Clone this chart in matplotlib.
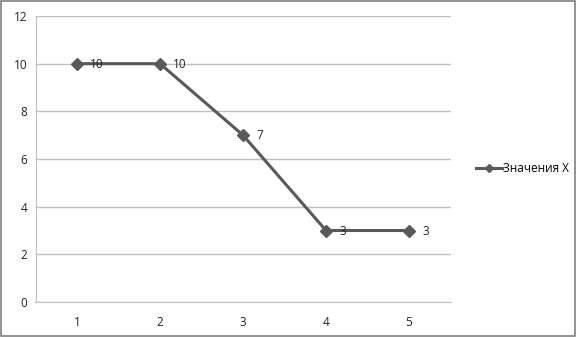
import matplotlib.pyplot as plt
from matplotlib.patches import Rectangle

categories = ['1', '2', '3', '4', '5']
values = [10, 10, 7, 3, 3]
series_name = 'Значения X'
y_ticks = [0, 2, 4, 6, 8, 10, 12]

plt.rcParams['font.family'] = ['Open Sans', 'DejaVu Sans']
line_color = '#595959'

fig = plt.figure(figsize=(5.77, 3.37), dpi=100)
ax = fig.add_axes([35.5 / 577, 35 / 337, 415 / 577, 286 / 337])

x = list(range(len(categories)))
ax.plot(x, values, color=line_color, lw=2.2, marker='D', ms=6.5,
        label=series_name, zorder=3)
for xi, v in zip(x, values):
    ax.annotate(str(v), (xi, v), xytext=(9.5, -0.5), textcoords='offset points',
                va='center', ha='left', fontsize=8.5, color='#222222', zorder=4)

ax.set_xlim(-0.5, len(categories) - 0.5)
ax.set_ylim(0, 12)
ax.set_yticks(y_ticks)
ax.set_xticks(x)
ax.set_xticklabels(categories)
ax.grid(axis='y', color='#bfbfbf', lw=1)
ax.set_axisbelow(True)
for side in ['top', 'right']:
    ax.spines[side].set_visible(False)
ax.spines['left'].set_color('#bfbfbf')
ax.spines['bottom'].set_color('#bfbfbf')
ax.tick_params(length=0, labelsize=8.5, colors='#222222')
ax.tick_params(axis='x', pad=10)
ax.tick_params(axis='y', pad=6)

leg = fig.legend(loc='center left', bbox_to_anchor=(465 / 577, 1 - 169 / 337),
                 frameon=False, fontsize=8.5, handlelength=2.2,
                 handletextpad=0.1, markerscale=0.6)

fig.patches.append(Rectangle((0.002, 0.003), 0.995, 0.993, transform=fig.transFigure,
                             fill=False, edgecolor='#808080', lw=1.2))

fig.savefig('out.png', dpi=100)
